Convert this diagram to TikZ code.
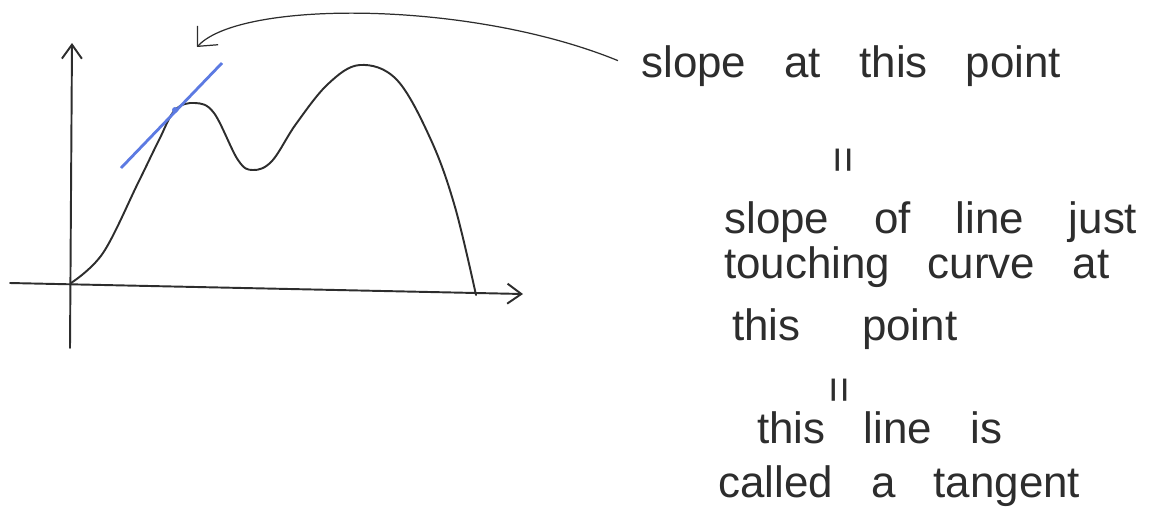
\documentclass[tikz,border=0pt]{standalone}
\usepackage{fontspec}
\setmainfont{Liberation Sans}
\usetikzlibrary{arrows.meta}
\definecolor{ink}{RGB}{45,45,45}
\definecolor{tanblue}{RGB}{92,122,226}

\begin{document}
\begin{tikzpicture}[x=0.02cm, y=-0.02cm,
 pen/.style={draw=ink, line width=1.1pt, line cap=round, line join=round},
 axis/.style={pen, -{Straight Barb[length=2.8mm,width=4mm]}},
 pointer/.style={draw=ink, line width=0.7pt, -{Straight Barb[length=3mm,width=5.6mm]}},
 note/.style={anchor=base west, inner sep=0pt, text=ink, font=\fontsize{25}{30}\selectfont},
 eq/.style={rotate=90, inner sep=0pt, text=ink, font=\fontsize{26}{30}\selectfont}]
\useasboundingbox (0,0) rectangle (1152,515);
% axes
\coordinate (O) at (71,283);
\coordinate (xl) at (10,283);
\coordinate (xr) at (523,294);
\coordinate (yb) at (70,348);
\coordinate (yt) at (72,43);
\draw[axis] (xl) -- (xr);
\draw[axis] (yb) -- (yt);
% the curve
\draw[pen] plot[smooth, tension=0.6] coordinates {(O) (103,253) (138,183) (159,140) (175,110)
 (195,103) (214,113) (238,160) (253,170) (272,161) (296,124) (328,84) (360,65) (397,80)
 (431,140) (455,207) (476,295)};
% tangent
\coordinate (P) at (175,110);
\coordinate (tl) at (121,168);
\coordinate (tr) at (222,63);
\draw[tanblue, line width=1.6pt] (tl) -- (tr);
\fill[tanblue] (P) circle (0.6mm);
% notes
\node[note] (slope) at (641,77) {\makebox[8.4cm][s]{slope at this point}};
\node[eq] (eq1) at (847,160) {=};
\node[note] (line1) at (724,233) {\makebox[8.26cm][s]{slope of line just}};
\node[note] (line2) at (724,278) {\makebox[7.7cm][s]{touching curve at}};
\node[note] (line3) at (732,340) {\makebox[4.5cm][s]{this point}};
\node[eq] (eq2) at (843,390) {=};
\node[note] (name1) at (757,443) {\makebox[4.9cm][s]{this line is}};
\node[note] (name2) at (718,497) {\makebox[7.24cm][s]{called a tangent}};
% pointer to the tangent
\coordinate (aim) at (197,47);
\draw[pointer] ([xshift=-4.6mm, yshift=1mm]slope.west) .. controls (470,0) and (240,0) .. (aim);
\end{tikzpicture}
\end{document}
